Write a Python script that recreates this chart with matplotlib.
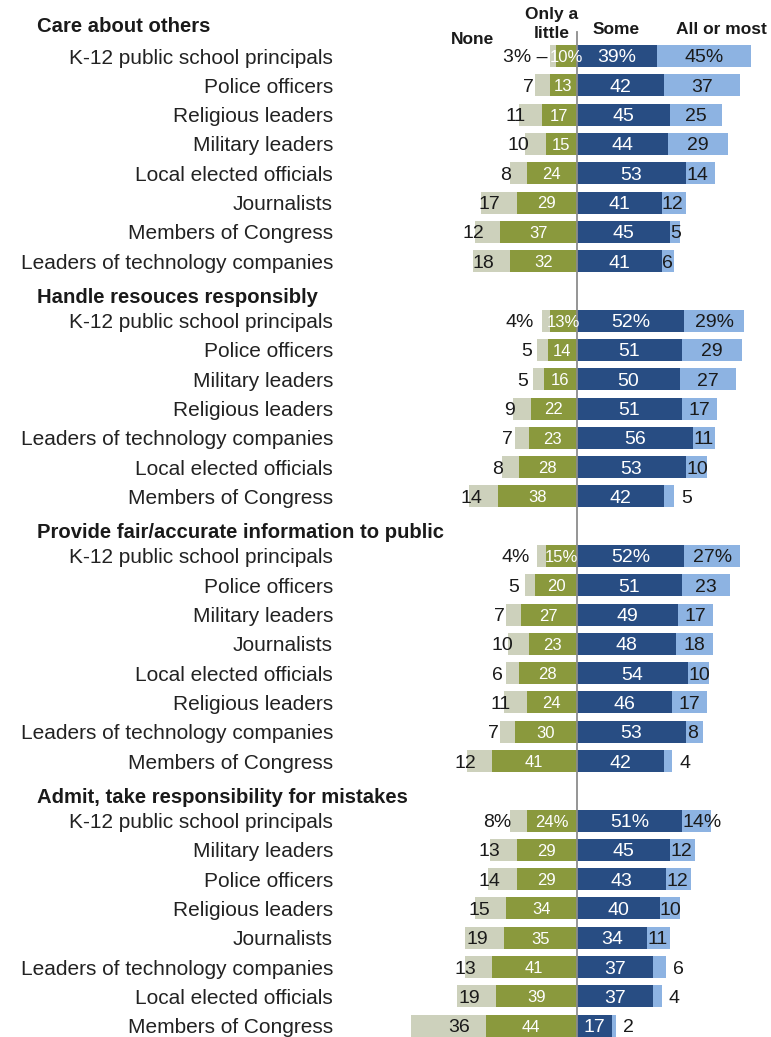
import matplotlib
matplotlib.use("Agg")
import matplotlib.pyplot as plt

plt.rcParams['font.family'] = ['Liberation Sans', 'DejaVu Sans']

# --- survey data: % saying group does this None / Only a little / Some / All or most
care_groups = ["K-12 public school principals", "Police officers", "Religious leaders",
               "Military leaders", "Local elected officials", "Journalists",
               "Members of Congress", "Leaders of technology companies"]
care_none = [3, 7, 11, 10, 8, 17, 12, 18]
care_little = [10, 13, 17, 15, 24, 29, 37, 32]
care_some = [39, 42, 45, 44, 53, 41, 45, 41]
care_all = [45, 37, 25, 29, 14, 12, 5, 6]

handle_groups = ["K-12 public school principals", "Police officers", "Military leaders",
                 "Religious leaders", "Leaders of technology companies",
                 "Local elected officials", "Members of Congress"]
handle_none = [4, 5, 5, 9, 7, 8, 14]
handle_little = [13, 14, 16, 22, 23, 28, 38]
handle_some = [52, 51, 50, 51, 56, 53, 42]
handle_all = [29, 29, 27, 17, 11, 10, 5]

info_groups = ["K-12 public school principals", "Police officers", "Military leaders",
               "Journalists", "Local elected officials", "Religious leaders",
               "Leaders of technology companies", "Members of Congress"]
info_none = [4, 5, 7, 10, 6, 11, 7, 12]
info_little = [15, 20, 27, 23, 28, 24, 30, 41]
info_some = [52, 51, 49, 48, 54, 46, 53, 42]
info_all = [27, 23, 17, 18, 10, 17, 8, 4]

admit_groups = ["K-12 public school principals", "Military leaders", "Police officers",
                "Religious leaders", "Journalists", "Leaders of technology companies",
                "Local elected officials", "Members of Congress"]
admit_none = [8, 13, 14, 15, 19, 13, 19, 36]
admit_little = [24, 29, 29, 34, 35, 41, 39, 44]
admit_some = [51, 45, 43, 40, 34, 37, 37, 17]
admit_all = [14, 12, 12, 10, 11, 6, 4, 2]

sections = [
    ("Care about others", care_groups, care_none, care_little, care_some, care_all),
    ("Handle resouces responsibly", handle_groups, handle_none, handle_little, handle_some, handle_all),
    ("Provide fair/accurate information to public", info_groups, info_none, info_little, info_some, info_all),
    ("Admit, take responsibility for mistakes", admit_groups, admit_none, admit_little, admit_some, admit_all),
]

# "All or most" labels that sit past the end of the bar
outside_all = {("Handle resouces responsibly", 6), ("Provide fair/accurate information to public", 7),
               ("Admit, take responsibility for mistakes", 5), ("Admit, take responsibility for mistakes", 6),
               ("Admit, take responsibility for mistakes", 7)}
leader_rows = {("Care about others", 0)}

NONE_C = "#cdd1bc"
LITTLE_C = "#8a993d"
SOME_C = "#284d83"
ALL_C = "#8db3e2"
TXT = "#1a1a1a"

W, H = 771, 1037
CX = 576.7      # pixel position of the zero line
PX = 2.07       # pixels per percentage point
ROW = 29.3
BAR_H = 22
NUM_FS = 14
LABEL_FS = 15


def ux(px):
    return (px - CX) / PX


fig = plt.figure(figsize=(W / 100, H / 100), dpi=100)
ax = fig.add_axes([0, 0, 1, 1])
ax.set_xlim(ux(0), ux(W))
ax.set_ylim(H, 0)
ax.axis("off")

# column headers
hdr = dict(fontsize=12.5, fontweight="bold", ha="center", va="center", color=TXT)
ax.text(ux(472), 39, "None", **hdr)
ax.text(ux(552), 14, "Only a", **hdr)
ax.text(ux(552), 33, "little", **hdr)
ax.text(ux(616), 30, "Some", **hdr)
ax.text(ux(721), 29, "All or most", **hdr)

ax.axvline(0, ymin=0, ymax=1 - 32 / H, color="#8c8c8c", lw=1.3, zorder=5)

head_y = 26.5
for s, (title, groups, none, little, some, allm) in enumerate(sections):
    ax.text(ux(37), head_y, title, fontsize=14.6, fontweight="bold",
            ha="left", va="center", color=TXT)
    y0 = head_y + (29.5 if s == 0 else 23.5)
    ys = [y0 + i * ROW for i in range(len(groups))]

    left_little = [-v for v in little]
    left_none = [-(a + b) for a, b in zip(none, little)]
    ax.barh(ys, none, left=left_none, height=BAR_H, color=NONE_C, zorder=2)
    ax.barh(ys, little, left=left_little, height=BAR_H, color=LITTLE_C, zorder=2)
    ax.barh(ys, some, left=0, height=BAR_H, color=SOME_C, zorder=2)
    ax.barh(ys, allm, left=some, height=BAR_H, color=ALL_C, zorder=2)

    for i, y in enumerate(ys):
        pct = "%" if i == 0 else ""
        ax.text(ux(333), y, groups[i], fontsize=LABEL_FS, ha="right",
                va="center_baseline", color="#222222")

        # None
        if (title, i) in leader_rows:
            ax.text(-little[i] - 4, y, f"{none[i]}{pct} \u2013", fontsize=NUM_FS,
                    ha="right", va="center_baseline", color=TXT, zorder=6)
        else:
            ax.text(-little[i] - 7.7, y, f"{none[i]}{pct}", fontsize=NUM_FS,
                    ha="right", va="center_baseline", color=TXT, zorder=6)
        # Only a little
        ax.text(-little[i] / 2, y, f"{little[i]}{pct}", fontsize=12,
                ha="center", va="center_baseline", color="white", zorder=6)
        # Some
        ax.text(some[i] / 2, y, f"{some[i]}{pct}", fontsize=NUM_FS,
                ha="center", va="center_baseline", color="white", zorder=6)
        # All or most
        if (title, i) in outside_all:
            ax.text(some[i] + allm[i] + 3.5, y, f"{allm[i]}{pct}", fontsize=NUM_FS,
                    ha="left", va="center_baseline", color=TXT, zorder=6)
        elif allm[i] >= 15:
            ax.text(some[i] + allm[i] / 2, y, f"{allm[i]}{pct}", fontsize=NUM_FS,
                    ha="center", va="center_baseline", color=TXT, zorder=6)
        else:
            ax.text(some[i] + 0.2, y, f"{allm[i]}{pct}", fontsize=NUM_FS,
                    ha="left", va="center_baseline", color=TXT, zorder=6)

    head_y = ys[-1] + 36

fig.savefig("out.png", dpi=100, facecolor="white")
